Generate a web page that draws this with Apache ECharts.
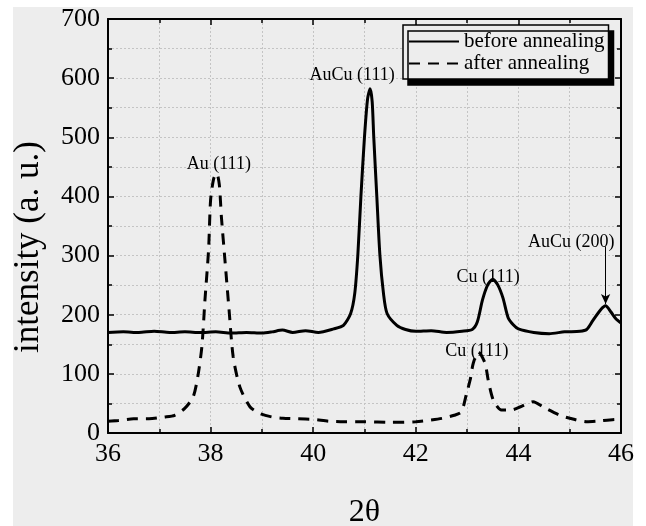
<!DOCTYPE html>
<html>
<head>
<meta charset="utf-8">
<script src="https://cdn.jsdelivr.net/npm/echarts@6/dist/echarts.min.js"></script>
<style>
  html, body { margin: 0; padding: 0; background: #ffffff; }
  #chart { width: 646px; height: 526px; }
</style>
</head>
<body>
<div id="chart"></div>
<script>
// XRD patterns
const beforeTheta = [36.0, 36.3, 36.6, 36.9, 37.2, 37.5, 37.8, 38.1, 38.4, 38.7, 39.0, 39.2, 39.4, 39.6, 39.85,
  40.1, 40.4, 40.59, 40.73, 40.81, 40.87, 40.93, 41.0, 41.06, 41.11, 41.15, 41.18, 41.24, 41.3, 41.37, 41.44,
  41.63, 41.8, 42.0, 42.3, 42.6, 42.9, 43.1, 43.2, 43.3, 43.4, 43.5, 43.6, 43.7, 43.8, 43.9, 44.0, 44.3, 44.6,
  44.9, 45.2, 45.33, 45.45, 45.6, 45.7, 45.8, 45.9, 46.0];
const beforeIntensity = [170, 171, 170, 172, 170, 171, 170, 171, 169, 170, 169, 171, 174, 170, 173,
  170, 176, 182, 202, 236, 301, 400, 501, 565, 582, 560, 501, 400, 301, 236, 202,
  182, 175, 172, 173, 170, 172, 175, 188, 225, 250, 260, 250, 228, 195, 183, 176, 170, 168,
  171, 172, 175, 190, 208, 215, 205, 193, 186];

const afterTheta = [36.0, 36.2, 36.5, 36.8, 37.1, 37.3, 37.5, 37.66, 37.75, 37.83, 37.89, 37.96, 38.0, 38.06,
  38.12, 38.17, 38.21, 38.28, 38.36, 38.44, 38.57, 38.77, 38.96, 39.2, 39.41, 39.7, 40.0, 40.3, 40.6, 41.0,
  41.5, 42.0, 42.3, 42.53, 42.75, 42.89, 42.99, 43.06, 43.12, 43.22, 43.35, 43.41, 43.51, 43.67, 43.87,
  44.03, 44.29, 44.48, 44.81, 45.0, 45.33, 45.53, 45.92, 46.0];
const afterIntensity = [20, 21, 24, 24, 27, 30, 42, 61, 95, 146, 225, 309, 394, 430,
  439, 420, 366, 292, 208, 129, 78, 44, 33, 27, 25, 24, 23, 20, 19, 19,
  18, 19, 22, 25, 30, 36, 67, 90, 118, 137, 118, 90, 56, 39, 39,
  44, 53, 44, 30, 25, 19, 20, 23, 22];

const seriesNames = ['before annealing', 'after annealing'];
const xTicks = ['36', '38', '40', '42', '44', '46'];

// peak labels: text, and where it sits (2θ, intensity)
const peakLabels = ['AuCu (111)', 'Au (111)', 'Cu (111)', 'Cu (111)', 'AuCu (200)'];
const peakTheta = [40.76, 38.16, 43.41, 43.19, 45.03];
const peakValue = [614, 463, 272, 147, 331];

const zip = (xs, ys) => xs.map((x, i) => [x, ys[i]]);

const serif = 'Liberation Serif';
const chart = echarts.init(document.getElementById('chart'), null, { renderer: 'canvas' });

function baseX(pos, showLabels) {
  return {
    type: 'value', position: pos, min: 36, max: 46, interval: 2,
    axisLine: { show: true, onZero: false, lineStyle: { color: '#000', width: 2 } },
    axisTick: { show: true, inside: true, length: 6, lineStyle: { color: '#000', width: 1.5 } },
    minorTick: { show: true, splitNumber: 2, length: 4, lineStyle: { color: '#000', width: 1.5 } },
    axisLabel: {
      show: showLabels, color: '#000', fontFamily: serif, fontSize: 26, margin: 8,
      formatter: v => xTicks[Math.round((v - 36) / 2)]
    },
    splitLine: { show: showLabels, lineStyle: { color: '#c4c4c4', type: [2, 2], width: 1 } },
    minorSplitLine: { show: showLabels, lineStyle: { color: '#c4c4c4', type: [2, 2], width: 1 } }
  };
}
function baseY(pos, showLabels) {
  return {
    type: 'value', position: pos, min: 0, max: 700, interval: 100,
    axisLine: { show: true, onZero: false, lineStyle: { color: '#000', width: 2 } },
    axisTick: { show: true, inside: true, length: 6, lineStyle: { color: '#000', width: 1.5 } },
    minorTick: { show: true, splitNumber: 2, length: 4, lineStyle: { color: '#000', width: 1.5 } },
    axisLabel: { show: showLabels, color: '#000', fontFamily: serif, fontSize: 26, margin: 8 },
    splitLine: { show: showLabels, lineStyle: { color: '#c4c4c4', type: [2, 2], width: 1 } },
    minorSplitLine: { show: showLabels, lineStyle: { color: '#c4c4c4', type: [2, 2], width: 1 } }
  };
}

const xMain = baseX('bottom', true);
xMain.name = '2θ';
xMain.nameLocation = 'middle';
xMain.nameGap = 64;
xMain.nameTextStyle = { color: '#000', fontFamily: serif, fontSize: 32 };

const yMain = baseY('left', true);
yMain.name = 'intensity (a. u.)';
yMain.nameLocation = 'middle';
yMain.nameGap = 62;
yMain.nameTextStyle = { color: '#000', fontFamily: serif, fontSize: 35, padding: [0, 42, 0, 0] };

const option = {
  animation: false,
  backgroundColor: '#ffffff',
  graphic: [{
    type: 'rect', z: -10, silent: true,
    shape: { x: 13, y: 7, width: 620, height: 519 },
    style: { fill: '#ededed' }
  }],
  grid: { left: 108, right: 25, top: 19, bottom: 93, containLabel: false, outerBoundsMode: 'none' },
  legend: {
    left: 403, top: 25, orient: 'vertical',
    data: seriesNames,
    itemWidth: 50, itemHeight: 14, itemGap: 1,
    padding: [6, 4, 5, 5],
    backgroundColor: '#ededed',
    borderColor: '#000', borderWidth: 1.5,
    shadowColor: '#000', shadowBlur: 0, shadowOffsetX: 5, shadowOffsetY: 6,
    itemStyle: { color: 'rgba(0,0,0,0)', borderWidth: 0, opacity: 0 },
    textStyle: { color: '#000', fontFamily: serif, fontSize: 21, lineHeight: 20 }
  },
  xAxis: [xMain, baseX('top', false)],
  yAxis: [yMain, baseY('right', false)],
  series: [
    {
      name: seriesNames[0], type: 'line', showSymbol: false, symbol: 'none', smooth: 0.25,
      data: zip(beforeTheta, beforeIntensity),
      lineStyle: { color: '#000', width: 3 },
      itemStyle: { color: '#000' },
      markPoint: {
        symbol: 'circle', symbolSize: 1, silent: true,
        itemStyle: { color: 'rgba(0,0,0,0)' },
        label: { show: true, position: 'inside', offset: [0, 5], color: '#000', fontFamily: serif, fontSize: 18 },
        data: peakLabels.map((t, i) => ({ coord: [peakTheta[i], peakValue[i]], value: t, label: { formatter: t } }))
      },
      markLine: {
        silent: true, symbol: ['none', 'arrow'], symbolSize: [7, 10],
        label: { show: false },
        lineStyle: { color: '#000', width: 1, type: 'solid' },
        data: [[{ coord: [45.7, 315] }, { coord: [45.7, 218] }]]
      }
    },
    {
      name: seriesNames[1], type: 'line', showSymbol: false, symbol: 'none', smooth: 0.25,
      data: zip(afterTheta, afterIntensity),
      lineStyle: { color: '#000', width: 3, type: [11, 8] },
      itemStyle: { color: '#000' }
    }
  ]
};

chart.setOption(option);
</script>
</body>
</html>
